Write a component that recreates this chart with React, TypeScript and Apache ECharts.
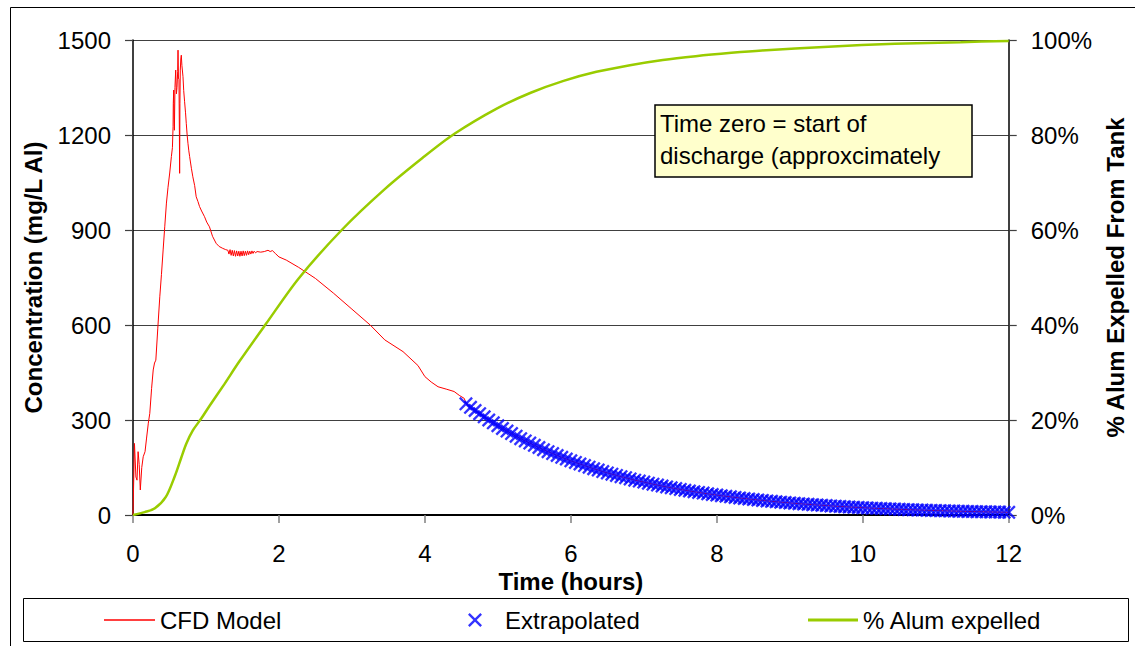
import React, { useEffect, useRef } from "react";
import * as echarts from "echarts";

// CFD model concentration (mg/L Al) vs time (hours)
const cfdTime = [
  0, 0.02, 0.04, 0.055, 0.07, 0.085, 0.1, 0.12, 0.14, 0.165, 0.186, 0.21, 0.23, 0.255, 0.277, 0.295, 0.313,
  0.34, 0.367, 0.39, 0.413, 0.435, 0.458, 0.48, 0.503, 0.526, 0.54, 0.549, 0.552, 0.558, 0.562, 0.567,
  0.575, 0.585, 0.595, 0.603, 0.612, 0.617, 0.623, 0.63, 0.636, 0.639, 0.643, 0.648, 0.655, 0.662, 0.67,
  0.685, 0.695, 0.707, 0.72, 0.73, 0.742, 0.753, 0.765, 0.776, 0.8, 0.82, 0.845, 0.866, 0.89, 0.912, 0.94,
  0.98, 1.01, 1.048, 1.09, 1.139, 1.18, 1.23, 1.27, 1.3, 1.315, 1.33, 1.345, 1.36, 1.375, 1.39, 1.405,
  1.42, 1.435, 1.45, 1.465, 1.48, 1.495, 1.51, 1.525, 1.54, 1.555, 1.57, 1.585, 1.6, 1.615, 1.63, 1.645,
  1.66, 1.68, 1.7, 1.75, 1.8, 1.85, 1.88, 1.91, 1.95, 2.0, 2.1, 2.27, 2.5, 2.75, 3.0, 3.25,
  3.45, 3.7, 3.905, 4.0, 4.086, 4.18, 4.3, 4.4, 4.47, 4.54,
];
const cfdConc = [
  0, 226, 120, 110, 200, 160, 79, 150, 184, 200, 243, 290, 321, 400, 458, 480, 489,
  590, 689, 760, 837, 910, 985, 1035, 1080, 1132, 1160, 1226, 1300, 1342, 1250, 1215,
  1350, 1405, 1330, 1350, 1400, 1468, 1380, 1375, 1200, 1079, 1300, 1405, 1440, 1452, 1420,
  1384, 1340, 1305, 1270, 1237, 1200, 1174, 1150, 1132, 1095, 1068, 1040, 1005, 990, 974, 960,
  942, 925, 910, 880, 858, 848, 842, 838, 836, 824, 838, 820, 836, 818, 835, 817, 834,
  818, 833, 817, 833, 818, 834, 819, 833, 820, 834, 822, 833, 824, 834, 826, 833,
  828, 832, 830, 832, 836, 832, 835, 826, 815, 805, 782, 747, 700, 650, 600, 553,
  516, 472, 437, 420, 405, 397, 390, 378, 368, 353,
];

// Extrapolated concentration, one marker every 1/16 hour from 4.5625 h to 12 h
const extrapStart = 4.5625;
const extrapStep = 0.0625;
const extrapConc = [
  351, 340, 330, 320, 310, 300, 291, 282, 273, 265, 257, 249, 241, 234, 227, 220,
  213, 206, 200, 194, 188, 182, 177, 171, 166, 161, 156, 151, 146, 142, 137, 133,
  129, 125, 121, 118, 114, 110, 107, 104, 100.5, 97.4, 94.4, 91.5, 88.7, 86, 83.3, 80.8,
  78.3, 75.9, 73.5, 71.3, 69.1, 66.9, 64.9, 62.9, 60.9, 59.1, 57.3, 55.5, 53.8, 52.1, 50.5, 49,
  47.5, 46, 44.6, 43.2, 41.9, 40.6, 39.4, 38.1, 37, 35.8, 34.7, 33.7, 32.6, 31.6, 30.7, 29.7,
  28.8, 27.9, 27.1, 26.2, 25.4, 24.6, 23.9, 23.1, 22.4, 21.7, 21.1, 20.4, 19.8, 19.2, 18.6, 18,
  17.5, 16.9, 16.4, 15.9, 15.4, 14.9, 14.5, 14, 13.6, 13.2, 12.8, 12.4, 12, 11.6, 11.3, 10.9,
  10.6, 10.3, 9.9, 9.6, 9.3, 9.1, 8.8, 8.5,
];

// % alum expelled from tank vs time (hours)
const alumTime = [
  0, 0.16, 0.3, 0.45, 0.571, 0.66, 0.73, 0.82, 0.935, 1.05, 1.25, 1.456, 1.82, 2.27, 2.86, 3.45,
  3.97, 4.4, 4.99, 5.45, 5.9, 6.35, 6.81, 7.26, 7.71, 8.2, 8.62, 9.53, 10.44, 11.34, 12,
];
const alumPct = [
  0, 0.6, 1.4, 3.8, 8.1, 12, 15, 17.8, 20.3, 23, 27.5, 32.3, 40.2, 49.8, 60, 68.6,
  75.2, 80.2, 85.6, 88.9, 91.4, 93.3, 94.7, 95.8, 96.6, 97.3, 97.8, 98.6, 99.2, 99.55, 99.8,
];

const xTicks = { min: 0, max: 12, interval: 2 };
const yLeftTicks = { min: 0, max: 1500, interval: 300 };
const yRightTicks = { min: 0, max: 100, interval: 20 };

const FONT = "Liberation Sans";
const X_PATH =
  "path://M0,1.2 L1.2,0 L5,3.8 L8.8,0 L10,1.2 L6.2,5 L10,8.8 L8.8,10 L5,6.2 L1.2,10 L0,8.8 L3.8,5 Z";

export default function App() {
  const ref = useRef<HTMLDivElement>(null);

  useEffect(() => {
    if (!ref.current) return;
    const chart = echarts.init(ref.current, undefined, { renderer: "svg" });

    const cfdData = cfdTime.map((t, i) => [t, cfdConc[i]]);
    const extrapData = extrapConc.map((c, i) => [extrapStart + i * extrapStep, c]);
    const alumData = alumTime.map((t, i) => [t, alumPct[i]]);

    const axisText = { fontSize: 24, color: "#000", fontFamily: FONT };
    const nameText = { fontSize: 24, color: "#000", fontWeight: "bold" as const, fontFamily: FONT };
    const legendText = { fontSize: 24, color: "#000", fontFamily: FONT };

    chart.setOption({
      animation: false,
      textStyle: { fontFamily: FONT },
      grid: { left: 133, right: 120, top: 40, bottom: 131, containLabel: false },
      xAxis: {
        type: "value",
        ...xTicks,
        name: "Time (hours)",
        nameLocation: "middle",
        nameGap: 52,
        nameTextStyle: nameText,
        axisLine: { show: true, lineStyle: { color: "#000", width: 2 } },
        axisTick: { show: true, length: 8, lineStyle: { color: "#808080", width: 1.5 } },
        axisLabel: { ...axisText, margin: 26, formatter: (v: number) => String(v) },
        splitLine: { show: false },
      },
      yAxis: [
        {
          type: "value",
          ...yLeftTicks,
          name: "Concentration (mg/L Al)",
          nameLocation: "middle",
          nameRotate: 90,
          nameGap: 88,
          nameTextStyle: nameText,
          axisLine: { show: true, lineStyle: { color: "#000", width: 1.5 } },
          axisTick: { show: true, length: 8, lineStyle: { color: "#404040", width: 1.2 } },
          axisLabel: { ...axisText, margin: 22, formatter: (v: number) => String(v) },
          splitLine: { show: true, lineStyle: { color: "#404040", width: 1 } },
        },
        {
          type: "value",
          ...yRightTicks,
          position: "right",
          name: "% Alum Expelled From Tank",
          nameLocation: "middle",
          nameRotate: 90,
          nameGap: 92,
          nameTextStyle: nameText,
          axisLine: { show: true, lineStyle: { color: "#000", width: 1.5 } },
          axisTick: { show: true, length: 8, lineStyle: { color: "#404040", width: 1.2 } },
          axisLabel: { ...axisText, margin: 22, formatter: (v: number) => v + "%" },
          splitLine: { show: false },
        },
      ],
      legend: [
        {
          data: [{ name: "CFD Model", icon: "rect" }],
          left: 104,
          top: 608,
          padding: 0,
          itemWidth: 51,
          itemHeight: 1.5,
          selectedMode: false,
          textStyle: legendText,
        },
        {
          data: [{ name: "Extrapolated", icon: X_PATH }],
          left: 468,
          top: 608,
          padding: 0,
          itemWidth: 14,
          itemHeight: 14,
          selectedMode: false,
          textStyle: { ...legendText, padding: [0, 0, 0, 18] },
        },
        {
          data: [{ name: "% Alum expelled", icon: "rect" }],
          left: 808,
          top: 608,
          padding: 0,
          itemWidth: 50,
          itemHeight: 3,
          selectedMode: false,
          textStyle: legendText,
        },
      ],
      series: [
        {
          name: "CFD Model",
          type: "line",
          data: cfdData.concat(extrapData),
          symbol: "none",
          color: "#FF0000",
          lineStyle: { color: "#FF0000", width: 1 },
          z: 2,
        },
        {
          name: "Extrapolated",
          type: "scatter",
          data: extrapData,
          symbol: X_PATH,
          symbolSize: 14,
          color: "#0000FF",
          itemStyle: { color: "#0000FF" },
          z: 3,
        },
        {
          name: "% Alum expelled",
          type: "line",
          yAxisIndex: 1,
          data: alumData,
          symbol: "none",
          smooth: 0.3,
          color: "#99CC00",
          lineStyle: { color: "#99CC00", width: 2.5 },
          z: 4,
        },
      ],
      graphic: [
        {
          type: "rect",
          shape: { x: 10.5, y: 7.5, width: 1135, height: 645 },
          style: { fill: "none", stroke: "#000", lineWidth: 1 },
          silent: true,
          z: 0,
        },
        {
          type: "rect",
          shape: { x: 23.5, y: 598.5, width: 1105, height: 43 },
          style: { fill: "none", stroke: "#000", lineWidth: 1 },
          silent: true,
          z: 0,
        },
        {
          type: "rect",
          shape: { x: 655, y: 105, width: 317, height: 72 },
          style: { fill: "#FFFFCC", stroke: "none" },
          z: 100,
        },
        {
          type: "text",
          x: 660,
          y: 107,
          style: {
            text: "Time zero = start of\ndischarge (approxcimately\n17:30)",
            font: `24px "${FONT}"`,
            fill: "#000",
            lineHeight: 32,
          },
          z: 101,
        },
        {
          type: "rect",
          shape: { x: 650, y: 177.8, width: 330, height: 30 },
          style: { fill: "#FFFFFF", stroke: "none" },
          z: 102,
        },
        {
          type: "rect",
          shape: { x: 655, y: 105, width: 317, height: 72 },
          style: { fill: "none", stroke: "#000", lineWidth: 1.5 },
          z: 103,
        },
      ],
    });

    return () => chart.dispose();
  }, []);

  return (
    <div
      ref={ref}
      style={{ position: "fixed", left: 0, top: 0, width: 1135, height: 646, background: "#fff" }}
    />
  );
}
